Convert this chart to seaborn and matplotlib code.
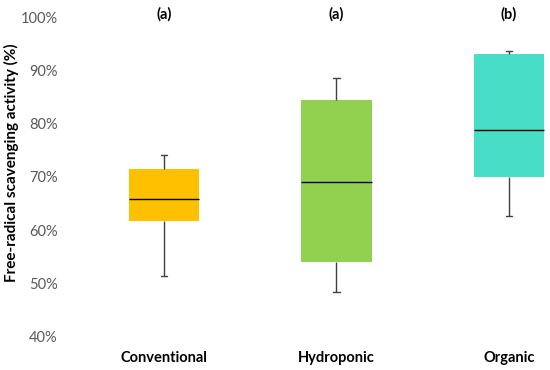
import numpy as np
import pandas as pd
import seaborn as sns
import matplotlib.pyplot as plt
from matplotlib.ticker import PercentFormatter

# five-number summaries (min, q1, median, q3, max), in %
conventional = [51.4, 61.8, 65.8, 71.5, 74.2]
hydroponic = [48.4, 54.0, 69.1, 84.5, 88.6]
organic = [62.6, 70.0, 78.8, 93.1, 93.6]
groups = ["Conventional", "Hydroponic", "Organic"]
letters = ["(a)", "(a)", "(b)"]
colors = ["#FFC000", "#92D050", "#48DDC6"]

df = pd.DataFrame({
    "group": np.repeat(groups, 5),
    "value": conventional + hydroponic + organic,
})

sns.set_style("white")
plt.rcParams["font.family"] = ["Lato", "DejaVu Sans"]
plt.rcParams["text.color"] = "black"
plt.rcParams["axes.labelcolor"] = "black"

fig = plt.figure(figsize=(5.5, 3.7), dpi=100)
ax = fig.add_axes([70 / 550, (370 - 336.7) / 370, 480 / 550, 319.4 / 370])

sns.boxplot(data=df, x="group", y="value", hue="group", palette=colors,
            order=groups, width=0.41, whis=(0, 100), legend=False,
            saturation=1, linecolor="#404040", linewidth=1, ax=ax,
            boxprops=dict(edgecolor="none"),
            medianprops=dict(color="black", linewidth=1),
            capwidths=0.04)

ax.set_ylim(40, 100)
ax.set_xlim(-0.545, 2.238)
ax.yaxis.set_major_formatter(PercentFormatter(decimals=0))
ax.set_yticks(range(40, 101, 10))
sns.despine(ax=ax, left=True, bottom=True)
ax.tick_params(axis="y", length=0, labelsize=10.5, labelcolor="#595959", pad=9)
ax.tick_params(axis="x", length=0, labelsize=10.5, labelcolor="black", pad=10)
for lab in ax.get_xticklabels():
    lab.set_fontweight("bold")

ax.set_xlabel("")
ax.set_ylabel("Free-radical scavenging activity (%)", fontsize=11,
              fontweight="bold")
ax.yaxis.set_label_coords(-0.106, 0.545)

for i, t in enumerate(letters):
    ax.text(i, 100.6, t, ha="center", va="center", fontsize=10.5,
            fontweight="bold", clip_on=False)

fig.savefig("out.png", dpi=100)
